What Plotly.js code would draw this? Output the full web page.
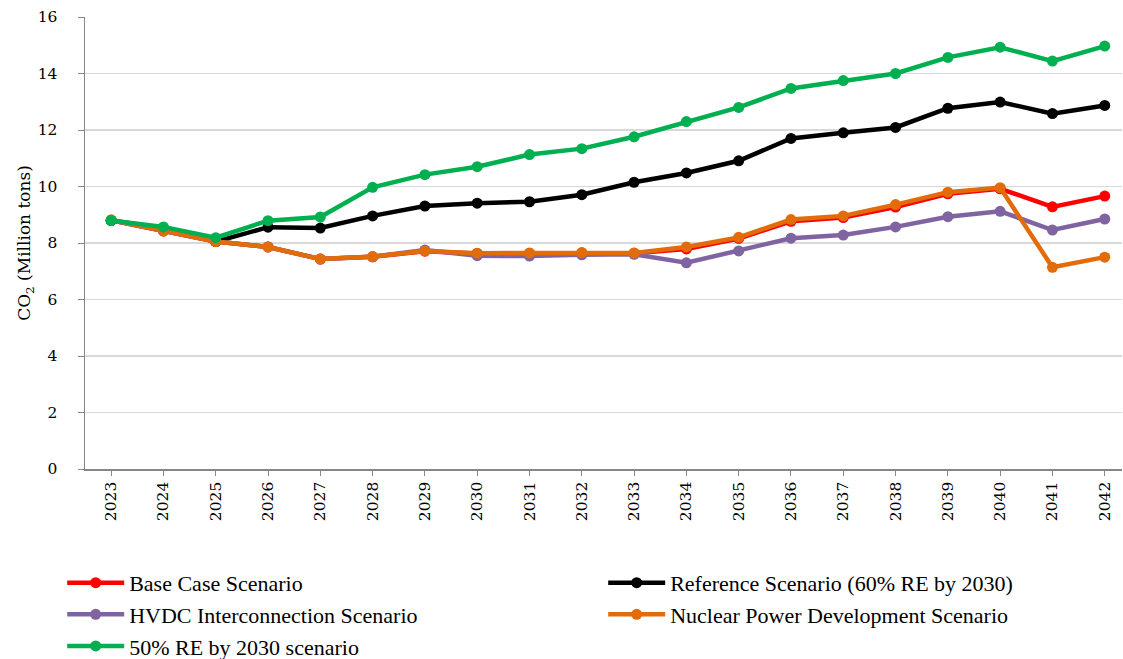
<!DOCTYPE html>
<html>
<head>
<meta charset="utf-8">
<script src="https://cdn.plot.ly/plotly-3.0.1.min.js"></script>
<style>html,body{margin:0;padding:0;background:#fff;}#chart{width:1123px;height:659px;}</style>
</head>
<body>
<div id="chart"></div>
<script>
const years = ["2023","2024","2025","2026","2027","2028","2029","2030","2031","2032","2033","2034","2035","2036","2037","2038","2039","2040","2041","2042"];
const baseCase = [8.8,8.43,8.05,7.86,7.43,7.51,7.71,7.63,7.63,7.65,7.64,7.79,8.16,8.77,8.9,9.27,9.74,9.92,9.28,9.66];
const reference = [8.8,8.52,8.05,8.56,8.53,8.96,9.31,9.41,9.46,9.71,10.15,10.48,10.91,11.7,11.9,12.09,12.77,12.99,12.58,12.87];
const hvdc = [8.8,8.43,8.05,7.86,7.43,7.51,7.75,7.55,7.54,7.58,7.6,7.3,7.72,8.17,8.28,8.57,8.93,9.12,8.46,8.85];
const nuclear = [8.82,8.42,8.05,7.86,7.43,7.52,7.72,7.64,7.65,7.66,7.65,7.86,8.2,8.83,8.96,9.36,9.8,9.96,7.14,7.5];
const re50 = [8.8,8.57,8.19,8.79,8.92,9.97,10.42,10.7,11.13,11.34,11.76,12.3,12.8,13.47,13.75,14.0,14.57,14.93,14.44,14.97];
const seriesNames = ["Base Case Scenario","Reference Scenario (60% RE by 2030)","HVDC Interconnection Scenario","Nuclear Power Development Scenario","50% RE by 2030 scenario"];
const seriesData = [baseCase, reference, hvdc, nuclear, re50];
const seriesColors = ["#ff0000","#000000","#8064a2","#e36c0a","#00b050"];

const traces = seriesNames.map((n,i)=>({
  type:'scatter', mode:'lines+markers', name:n, x:years, y:seriesData[i],
  line:{color:seriesColors[i], width:4.5},
  marker:{color:seriesColors[i], size:11}
}));
const serifA = "'DejaVu Serif', serif";
const serifB = "'Liberation Serif', serif";
const layout = {
  width:1123, height:659,
  margin:{l:85, r:1, t:17, b:190, autoexpand:false},
  paper_bgcolor:'#fff', plot_bgcolor:'#fff',
  showlegend:true,
  legend:{orientation:'h', x:-0.022, xanchor:'left', y:-0.2056, yanchor:'top',
    font:{family:serifB, size:22, color:'#000'}, entrywidth:469, itemwidth:57, tracegroupgap:0,
    traceorder:'normal', bgcolor:'rgba(0,0,0,0)'},
  xaxis:{type:'category', range:[-0.5,19.33], tickangle:-90, ticks:'outside', ticklen:5, tickcolor:'#868686',
    showline:true, linecolor:'#868686', linewidth:1.5, showgrid:false, zeroline:false,
    tickfont:{family:serifA, size:15.5, color:'#000'}},
  yaxis:{range:[0,16], dtick:2, ticks:'outside', ticklen:6, tickcolor:'#868686', ticklabelstandoff:17,
    showline:true, linecolor:'#868686', linewidth:1.5, gridcolor:'#d9d9d9', gridwidth:1.3, zeroline:false,
    tickfont:{family:serifA, size:15.5, color:'#000'},
    title:{text:'CO<sub>2</sub> (Million tons)', font:{family:serifA, size:17, color:'#000'}, standoff:2}}
};
Plotly.newPlot('chart', traces, layout, {displayModeBar:false, staticPlot:true});
</script>
</body>
</html>
